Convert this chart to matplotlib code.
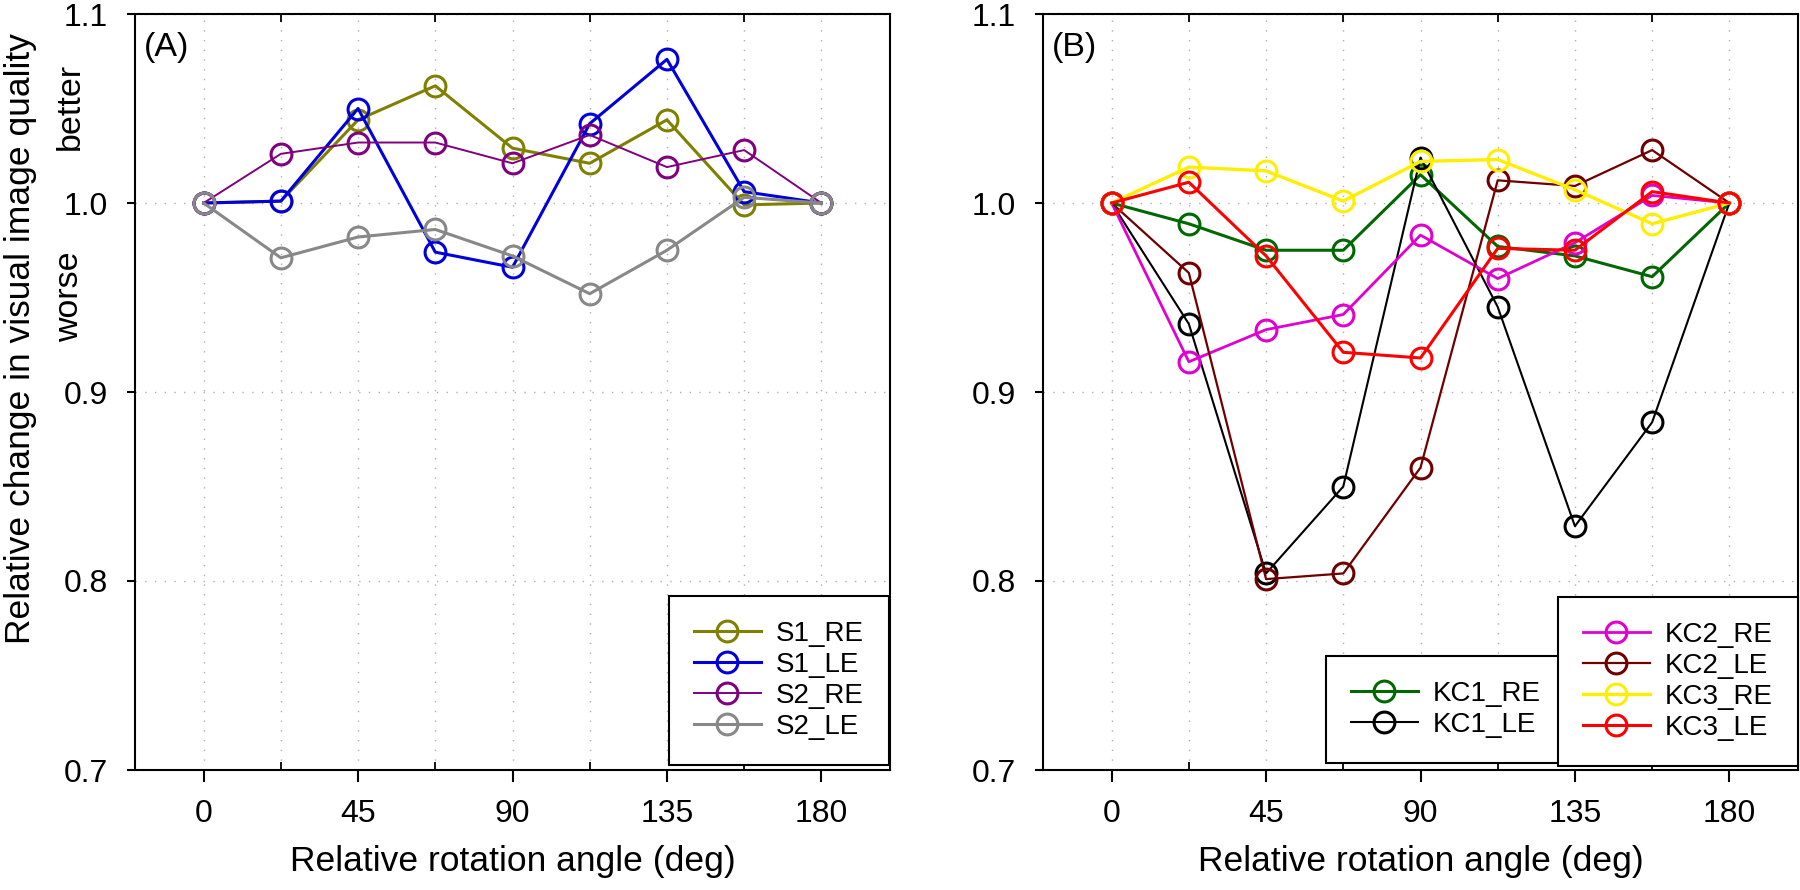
import matplotlib
matplotlib.use('Agg')
import matplotlib.pyplot as plt
from matplotlib.ticker import FixedLocator

plt.rcParams['font.family'] = ['Liberation Sans', 'DejaVu Sans']

# ---------------- data ----------------
angles = [0, 22.5, 45, 67.5, 90, 112.5, 135, 157.5, 180]
xticks = [0, 45, 90, 135, 180]
xminor = [22.5, 67.5, 112.5, 157.5]
yticks = [0.7, 0.8, 0.9, 1.0, 1.1]
ytick_labels = ['0.7', '0.8', '0.9', '1.0', '1.1']

s1_re = [1.000, 1.001, 1.044, 1.062, 1.029, 1.021, 1.044, 0.999, 1.000]
s1_le = [1.000, 1.001, 1.050, 0.974, 0.966, 1.042, 1.076, 1.006, 1.000]
s2_re = [1.000, 1.026, 1.032, 1.032, 1.021, 1.036, 1.019, 1.028, 1.000]
s2_le = [1.000, 0.971, 0.982, 0.986, 0.972, 0.952, 0.975, 1.003, 1.000]

kc1_re = [1.000, 0.989, 0.975, 0.975, 1.015, 0.977, 0.972, 0.961, 1.000]
kc1_le = [1.000, 0.936, 0.804, 0.850, 1.024, 0.945, 0.829, 0.884, 1.000]
kc2_re = [1.000, 0.916, 0.933, 0.941, 0.983, 0.960, 0.979, 1.004, 1.000]
kc2_le = [1.000, 0.963, 0.801, 0.804, 0.860, 1.012, 1.009, 1.028, 1.000]
kc3_re = [1.000, 1.019, 1.017, 1.001, 1.022, 1.023, 1.007, 0.989, 1.000]
kc3_le = [1.000, 1.011, 0.972, 0.921, 0.918, 0.976, 0.975, 1.006, 1.000]

series_a = [
    ('S1_RE', s1_re, '#808000', 2.2),
    ('S1_LE', s1_le, '#0000DD', 2.2),
    ('S2_RE', s2_re, '#800080', 1.4),
    ('S2_LE', s2_le, '#888888', 2.2),
]
series_b = [
    ('KC1_RE', kc1_re, '#006800', 2.2),
    ('KC1_LE', kc1_le, '#000000', 1.5),
    ('KC2_RE', kc2_re, '#E000D0', 2.0),
    ('KC2_LE', kc2_le, '#700000', 1.6),
    ('KC3_RE', kc3_re, '#FFEE00', 2.4),
    ('KC3_LE', kc3_le, '#FF0000', 2.2),
]

W, H = 1800, 890
fig = plt.figure(figsize=(W / 100, H / 100), dpi=100)

def px_axes(left, top, right, bottom):
    return fig.add_axes([left / W, 1 - bottom / H, (right - left) / W, (bottom - top) / H])

axA = px_axes(135, 14, 890, 770)
axB = px_axes(1043, 14, 1798, 770)

def style(ax):
    ax.set_xlim(-20, 200)
    ax.set_ylim(0.7, 1.1)
    ax.set_xticks(xticks)
    ax.set_xticklabels([str(t) for t in xticks])
    ax.xaxis.set_minor_locator(FixedLocator(xminor))
    ax.set_yticks(yticks)
    ax.set_yticklabels(ytick_labels)
    for sp in ax.spines.values():
        sp.set_linewidth(1.5)
        sp.set_color('black')
    ax.tick_params(axis='x', which='major', direction='out', length=8.6, width=1.5,
                   pad=12.5, labelsize=23, top=False, bottom=True)
    ax.tick_params(axis='x', which='minor', direction='in', length=5.8, width=1.3,
                   top=True, bottom=True)
    ax.tick_params(axis='y', which='major', direction='out', length=5.8, width=1.5,
                   pad=13.5, labelsize=23, right=False)
    ax.set_axisbelow(True)
    ax.grid(True, which='both', axis='x', color='#B0B0B0', linestyle=(0, (1, 6)), linewidth=1.0)
    ax.grid(True, which='major', axis='y', color='#B0B0B0', linestyle=(0, (1, 6)), linewidth=1.0)
    ax.set_xlabel('Relative rotation angle (deg)', fontsize=25.5, labelpad=11)

def plot_series(ax, series):
    handles = []
    for label, vals, color, lw in series:
        h, = ax.plot(angles, vals, color=color, lw=lw, marker='o', ms=15,
                     mfc='none', mec=color, mew=2.2, label=label, clip_on=False)
        handles.append(h)
    return handles

leg_kw = dict(fontsize=20, frameon=True, fancybox=False, edgecolor='black',
              framealpha=1, borderpad=0.9, labelspacing=0.18, handlelength=2.4,
              handletextpad=0.55, borderaxespad=0, numpoints=1,
              bbox_transform=fig.transFigure)

style(axA)
hA = plot_series(axA, series_a)
legA = axA.legend(handles=hA, loc='lower right',
                  bbox_to_anchor=(889 / W, 1 - 765 / H), **leg_kw)
legA.get_frame().set_linewidth(1.5)
axA.text(0.012, 0.956, '(A)', transform=axA.transAxes, fontsize=24.5, va='center', ha='left')

style(axB)
hB = plot_series(axB, series_b)
legB1 = axB.legend(handles=hB[:2], loc='lower left',
                   bbox_to_anchor=(1326 / W, 1 - 763 / H), **leg_kw)
legB1.get_frame().set_linewidth(1.5)
axB.add_artist(legB1)
legB2 = axB.legend(handles=hB[2:], loc='lower right',
                   bbox_to_anchor=(1798 / W, 1 - 766 / H), **leg_kw)
legB2.get_frame().set_linewidth(1.5)
axB.text(0.012, 0.956, '(B)', transform=axB.transAxes, fontsize=24.5, va='center', ha='left')

# y-axis annotations
fig.text(21 / W, 1 - 338 / H, 'Relative change in visual image quality', rotation=90,
         fontsize=25.5, ha='center', va='center')
fig.text(70 / W, 1 - 106 / H, 'better', rotation=90, fontsize=24.5, ha='center', va='center')
fig.text(70 / W, 1 - 297 / H, 'worse', rotation=90, fontsize=24.5, ha='center', va='center')

fig.savefig('out.png', dpi=100)
